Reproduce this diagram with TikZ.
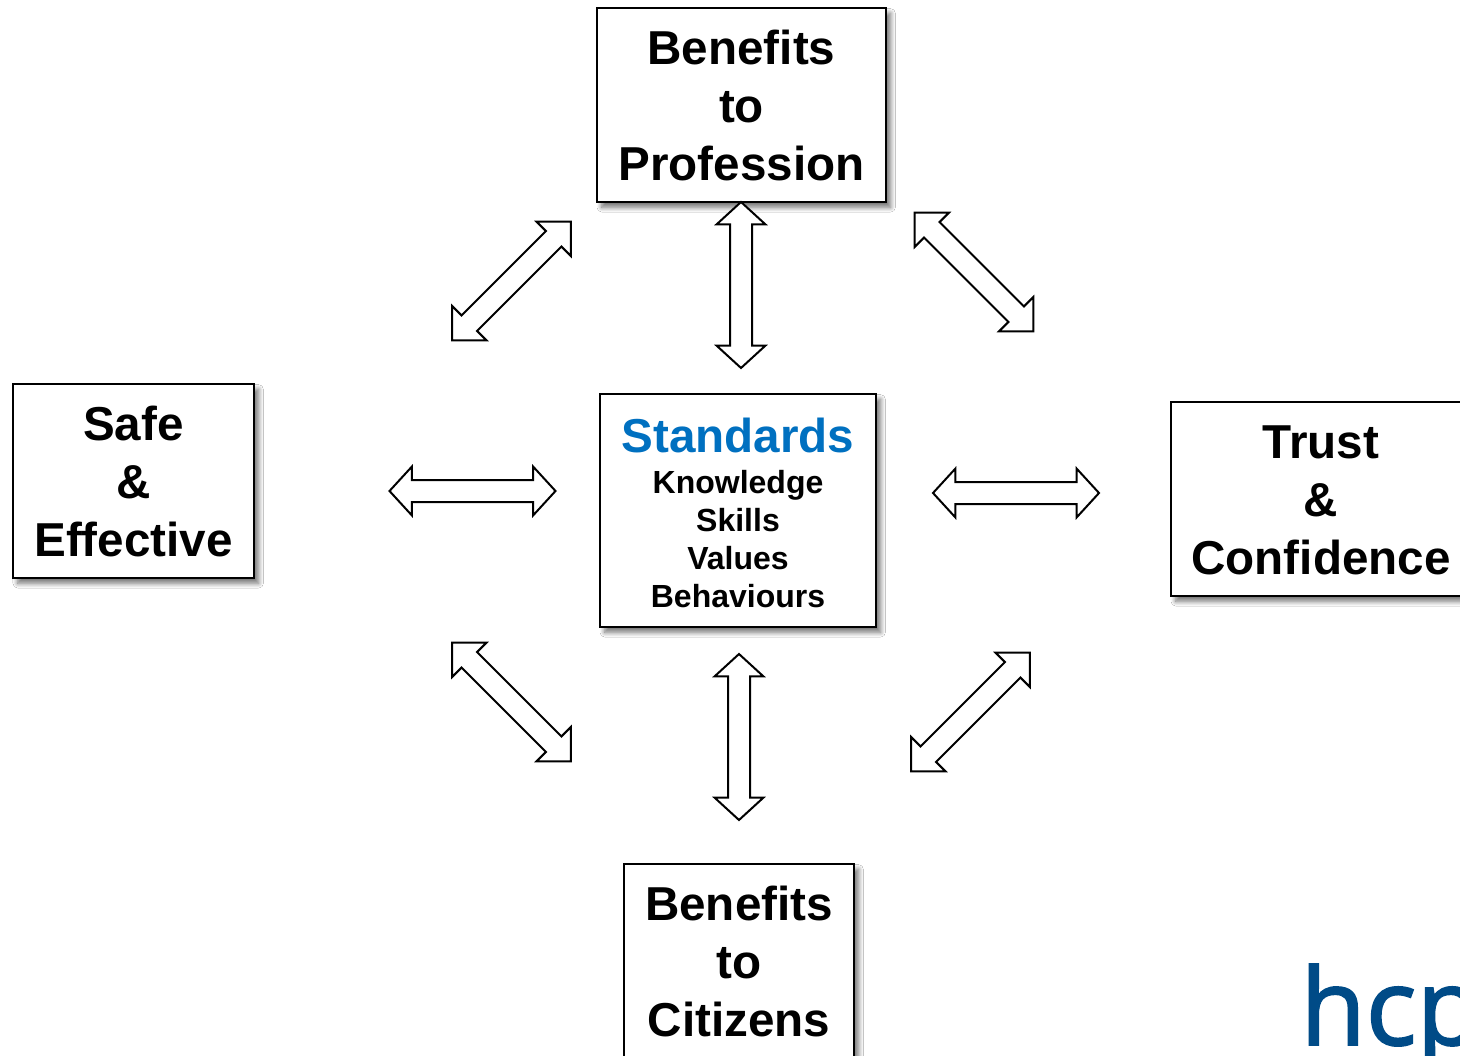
\documentclass[tikz,border=0pt]{standalone}
\usepackage{fontspec}
\setmainfont{Liberation Sans}
\newfontfamily\logofont[FakeBold=1.7]{Open Sans}
\usetikzlibrary{shapes.arrows,shadows.blur}
\definecolor{stdblue}{HTML}{0070C0}
\definecolor{logoblue}{HTML}{004B87}
\tikzset{
  boxnode/.style 2 args={draw=black,fill=white,line width=1.6pt,inner sep=0pt,outer sep=0pt,
    minimum width=#1*0.75pt,minimum height=#2*0.75pt,align=center,
    font=\fontsize{35.7}{43.5}\selectfont\bfseries,
    blur shadow={shadow xshift=3.5pt,shadow yshift=-4pt,shadow blur radius=3.5pt,shadow blur steps=10,shadow opacity=55}},
  darrow/.style={shape=double arrow,draw=black,fill=white,line width=1.5pt,inner xsep=0pt,inner ysep=7.5pt,outer sep=0pt,
    minimum width=35pt,minimum height=124.5pt,double arrow head extend=10pt,double arrow tip angle=95},
  diagarrow/.style={darrow,minimum height=126pt,double arrow tip angle=90}
}
\begin{document}
\begin{tikzpicture}[x=0.75pt,y=-0.75pt]
\clip (0,0) rectangle (1460,1056);
\fill[white] (0,0) rectangle (1460,1056);
\node[boxnode={289}{194}] (prof) at (741.5,105) {Benefits\\to\\Profession};
\node[boxnode={241}{194}] (safe) at (133.5,481) {Safe\\\&\\Effective};
\node[boxnode={300}{194}] (trust) at (1321,499) {\rule{0pt}{27pt}Trust\\\&\\Confidence};
\node[boxnode={230}{194}] (cit) at (739,961) {Benefits\\to\\Citizens};
\node[boxnode={276}{233},font=\fontsize{24}{28.7}\selectfont\bfseries] (std) at (738,510.5)
  {{\fontsize{35.7}{43}\selectfont\color{stdblue}\rule{0pt}{30pt}Standards}\\[1.5pt]Knowledge\\Skills\\Values\\Behaviours};
\node[darrow,rotate=90] (aT) at (741,285) {};
\node[darrow,rotate=90] (aB) at (739,737) {};
\node[darrow] (aL) at (472.5,491) {};
\node[darrow] (aR) at (1016,493) {};
\node[diagarrow,rotate=45] (aTL) at (511.5,281) {};
\node[diagarrow,rotate=-45] (aTR) at (974,272) {};
\node[diagarrow,rotate=-45] (aBL) at (511.5,702) {};
\node[diagarrow,rotate=45] (aBR) at (970.5,712) {};
\node[anchor=base west,inner sep=0pt,text=logoblue,font=\logofont\fontsize{80}{80}\selectfont] (logo) at (1300,1045) {hcp};
\end{tikzpicture}
\end{document}
